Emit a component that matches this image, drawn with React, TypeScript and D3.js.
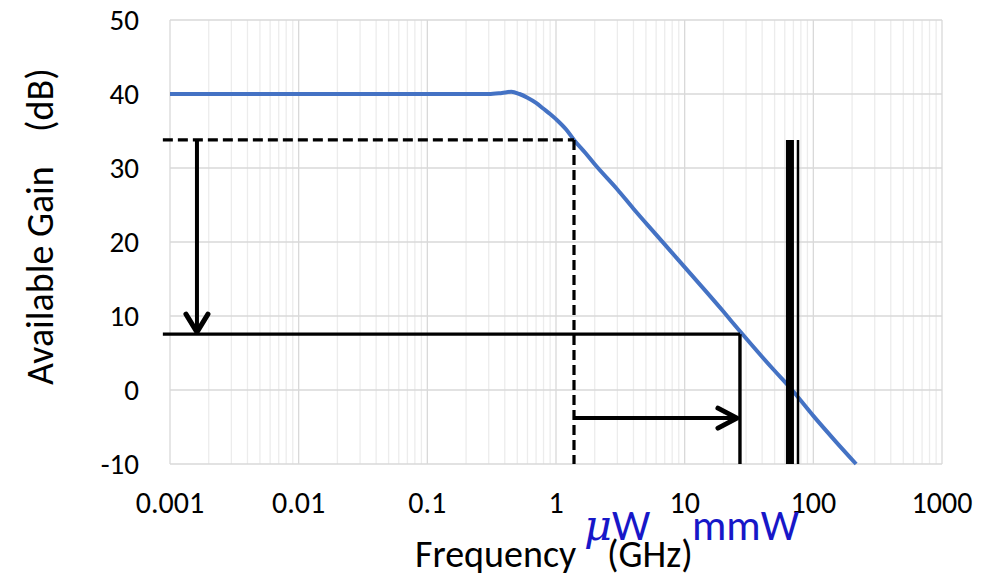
import React from "react";
import * as d3 from "d3";

const W = 1003;
const H = 578;

// Gain curve (GHz, dB)
const freqGHz = [0.001, 0.01, 0.1, 0.3, 0.38, 0.45, 0.52, 0.6, 0.7, 0.8, 0.9, 1.0, 1.2, 1.38, 1.7, 2.0, 3.0, 4.0, 6.0, 10, 20, 27, 50, 66, 100, 150, 215];
const gainDB = [40, 40, 40, 40, 40.15, 40.3, 40.0, 39.5, 38.8, 38.0, 37.3, 36.6, 35.2, 33.8, 32.0, 30.5, 27.1, 24.5, 21.0, 16.6, 10.6, 7.9, 2.6, 0.3, -3.5, -7.0, -10];

const yTicks = [-10, 0, 10, 20, 30, 40, 50];
const xTicks = [0.001, 0.01, 0.1, 1, 10, 100, 1000];
const xTickLabels = ["0.001", "0.01", "0.1", "1", "10", "100", "1000"];

// Annotation values (GHz / dB)
const dashedLevel = 33.8; // dB
const dashedFreq = 1.38; // GHz
const solidLevel = 7.55; // dB
const solidFreq = 26.9; // GHz
const lineStartFreq = 0.00088; // GHz, start of horizontal guides (left of axis)
const downArrowFreq = 0.00162; // GHz
const rightArrowLevel = -3.8; // dB
const mmwBars = [65.8, 76]; // GHz (thick, thin)

export default function App() {
  const x = d3.scaleLog().domain([0.001, 1000]).range([170, 942]);
  const y = d3.scaleLinear().domain([-10, 50]).range([464, 20]);

  const minor: number[] = [];
  for (let e = -3; e < 3; e++) {
    for (let k = 2; k <= 9; k++) minor.push(k * Math.pow(10, e));
  }

  const pts: [number, number][] = freqGHz.map((f, i) => [f, gainDB[i]]);
  const line = d3
    .line<[number, number]>()
    .x((d) => x(d[0]))
    .y((d) => y(d[1]))
    .curve(d3.curveMonotoneX);

  const font = "Carlito, Calibri, 'Liberation Sans', Arial, sans-serif";
  const blue = "#1717c8";

  const xd = x(downArrowFreq);
  const yDown = y(solidLevel);
  const xr = x(solidFreq);
  const yr = y(rightArrowLevel);

  return (
    <svg
      width={W}
      height={H}
      style={{ position: "absolute", left: 0, top: 0, background: "#fff" }}
      fontFamily={font}
    >
      <rect x={0} y={0} width={W} height={H} fill="#fff" />
      {/* minor vertical grid */}
      {minor.map((m, i) => (
        <line key={"mn" + i} x1={x(m)} x2={x(m)} y1={y(50)} y2={y(-10)} stroke="#ececec" strokeWidth={1.3} />
      ))}
      {/* major vertical grid */}
      {xTicks.map((t, i) => (
        <line key={"mj" + i} x1={x(t)} x2={x(t)} y1={y(50)} y2={y(-10)} stroke="#d9d9d9" strokeWidth={1.3} />
      ))}
      {/* horizontal grid */}
      {yTicks.map((t, i) => (
        <line key={"hy" + i} x1={x(0.001)} x2={x(1000)} y1={y(t)} y2={y(t)} stroke="#d9d9d9" strokeWidth={1.3} />
      ))}

      {/* y tick labels */}
      {yTicks.map((t, i) => (
        <text key={"yt" + i} x={139} y={y(t) + 9.5} textAnchor="end" fontSize={29} fill="#000">
          {t}
        </text>
      ))}
      {/* x tick labels */}
      {xTicks.map((t, i) => (
        <text key={"xt" + i} x={x(t)} y={513} textAnchor="middle" fontSize={30} fill="#000">
          {xTickLabels[i]}
        </text>
      ))}

      {/* gain curve */}
      <path d={line(pts) || ""} fill="none" stroke="#4472C4" strokeWidth={4} />

      {/* dashed guides */}
      <line x1={x(lineStartFreq)} x2={x(dashedFreq)} y1={y(dashedLevel)} y2={y(dashedLevel)} stroke="#000" strokeWidth={3.2} strokeDasharray="10,5" />
      <line x1={x(dashedFreq)} x2={x(dashedFreq)} y1={y(dashedLevel)} y2={y(-10)} stroke="#000" strokeWidth={3.2} strokeDasharray="10,5" />

      {/* solid guides */}
      <line x1={x(lineStartFreq)} x2={xr} y1={yDown} y2={yDown} stroke="#000" strokeWidth={3.4} />
      <line x1={xr} x2={xr} y1={yDown} y2={y(-10)} stroke="#000" strokeWidth={3.4} />

      {/* down arrow */}
      <line x1={xd} x2={xd} y1={y(dashedLevel)} y2={yDown - 2} stroke="#000" strokeWidth={4} />
      <polyline
        points={`${xd - 11},${yDown - 20} ${xd},${yDown - 2} ${xd + 11},${yDown - 20}`}
        fill="none"
        stroke="#000"
        strokeWidth={5}
        strokeLinecap="round"
        strokeLinejoin="round"
      />

      {/* right arrow */}
      <line x1={x(dashedFreq)} x2={xr - 3} y1={yr} y2={yr} stroke="#000" strokeWidth={4} />
      <polyline
        points={`${xr - 22},${yr - 10} ${xr - 3},${yr} ${xr - 22},${yr + 10}`}
        fill="none"
        stroke="#000"
        strokeWidth={5}
        strokeLinecap="round"
        strokeLinejoin="round"
      />

      {/* mmW bars */}
      <line x1={x(mmwBars[0])} x2={x(mmwBars[0])} y1={y(dashedLevel)} y2={y(-10)} stroke="#000" strokeWidth={8} />
      <line x1={x(mmwBars[1])} x2={x(mmwBars[1])} y1={y(dashedLevel)} y2={y(-10)} stroke="#000" strokeWidth={2.5} />

      {/* axis titles */}
      <text x={415} y={567} fontSize={38} fill="#000">Frequency</text>
      <text x={607} y={567} fontSize={38} fill="#000">(GHz)</text>
      <g transform="translate(53,0) rotate(-90)">
        <text x={-385} y={0} fontSize={38} fill="#000">Available Gain</text>
        <text x={-132} y={0} fontSize={38} fill="#000">(dB)</text>
      </g>

      {/* band labels */}
      <text x={584} y={540} fontSize={43} fill={blue}>
        <tspan fontStyle="italic" fontFamily="'DejaVu Serif', serif">μ</tspan>
        <tspan>W</tspan>
      </text>
      <text x={692} y={540} fontSize={43} fill={blue}>mmW</text>
    </svg>
  );
}
